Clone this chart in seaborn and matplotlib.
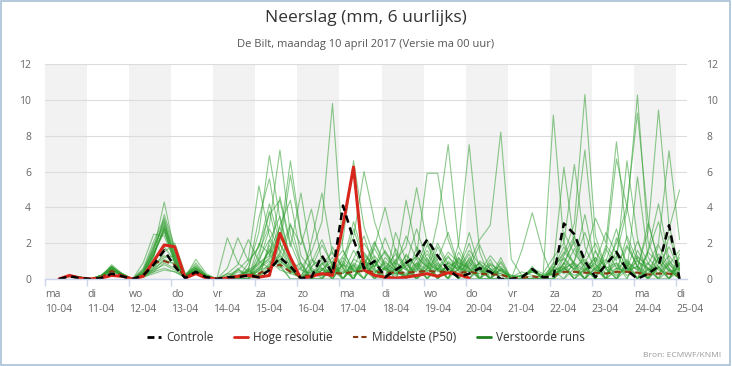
import pandas as pd
import seaborn as sns
import matplotlib.pyplot as plt
from matplotlib.lines import Line2D
from matplotlib.patches import Rectangle

# dagen op de x-as
dagen = ['ma', 'di', 'wo', 'do', 'vr', 'za', 'zo', 'ma', 'di', 'wo', 'do', 'vr', 'za', 'zo', 'ma', 'di']
datums = ['10-04', '11-04', '12-04', '13-04', '14-04', '15-04', '16-04', '17-04',
          '18-04', '19-04', '20-04', '21-04', '22-04', '23-04', '24-04', '25-04']

# 6-uurlijkse tijdstappen (lokale tijd, uren na 10-04 00:00)
uren = list(range(8, 8 + 6 * 60, 6))

controle = [0, 0.15, 0.05, 0, 0.05, 0.3, 0.15, 0, 0.2, 0.8,
            1.6, 0.7, 0.05, 0.4, 0.1, 0, 0.1, 0.1, 0.2, 0.1,
            0.5, 1.2, 0.7, 0.05, 0.1, 1.3, 0.3, 4.1, 2.2, 0.6,
            1.0, 0.1, 0.5, 0.9, 1.3, 2.2, 1.3, 0.5, 0.1, 0.3,
            0.6, 0.4, 0.0, 0.0, 0.1, 0.55, 0.1, 0.1, 3.1, 2.5,
            1.0, 0.1, 0.8, 1.5, 0.5, 0.0, 0.3, 0.7, 3.0, 0.0]

hoge_resolutie = [0, 0.2, 0.05, 0, 0.05, 0.2, 0.15, 0, 0.15, 1.0,
                  1.9, 1.8, 0.05, 0.3, 0.05, 0, 0.05, 0.15, 0.2, 0.1,
                  0.2, 2.55, 1.2, 0.0, 0.15, 0.3, 0.2, 3.0, 6.25, 0.5,
                  0.2, 0.1, 0.05, 0.1, 0.2, 0.3, 0.15, 0.35, 0.25, 0.05]

middelste = [0, 0.15, 0.05, 0, 0.1, 0.45, 0.2, 0, 0.2, 0.9,
             1.0, 0.8, 0.1, 0.4, 0.1, 0, 0.1, 0.15, 0.2, 0.3,
             0.6, 0.8, 0.4, 0.15, 0.2, 0.3, 0.35, 0.3, 0.4, 0.45,
             0.4, 0.35, 0.35, 0.35, 0.4, 0.45, 0.4, 0.4, 0.35, 0.4,
             0.3, 0.25, 0.25, 0.05, 0.05, 0.15, 0.05, 0.2, 0.4, 0.4,
             0.35, 0.35, 0.3, 0.4, 0.4, 0.35, 0.25, 0.3, 0.3, 0.2]

verstoorde_runs = [
    [0, 0.2, 0.1, 0, 0.1, 0.6, 0.2, 0, 0.4, 1.6, 4.3, 1.5, 0.1, 0.5, 0.1, 0, 0, 0, 0, 0,
     2.1, 3.5, 1.2, 0, 0, 0.8, 1.5, 0.6, 2.8, 1.0, 0, 1.2, 0.6, 0, 1.8, 0.9, 0, 0.5, 1.2, 0,
     0, 0.8, 0, 0, 0, 0, 0, 0.6, 1.8, 0.7, 0, 1.1, 0, 2.3, 0.9, 0, 0.5, 1.4, 0.6, 0],
    [0, 0.2, 0.05, 0, 0.2, 0.7, 0.3, 0, 0.9, 2.5, 2.4, 1.0, 0.1, 0.8, 0.2, 0, 0, 0, 0, 1.2,
     3.8, 1.4, 0.5, 0, 0, 0, 0.9, 1.6, 0.5, 0, 1.1, 0, 2.6, 1.0, 0, 0.6, 3.2, 7.5, 1.8, 0.6,
     0, 0, 0.5, 0, 0, 0, 0, 0, 0.9, 2.1, 0.8, 0, 0, 0.6, 1.9, 0.7, 0, 0, 0.9, 0],
    [0, 0.2, 0.1, 0, 0.1, 0.5, 0.2, 0, 0.2, 1.2, 3.6, 1.8, 0.2, 0.4, 0.1, 0, 0, 0, 0, 0.6,
     1.2, 4.6, 2.0, 0.6, 0, 0, 0.7, 0, 1.1, 2.4, 0.6, 0, 0.5, 1.3, 0.7, 2.2, 1.0, 0, 2.0, 7.5,
     1.5, 0, 0, 0, 0, 0, 0, 0, 0.5, 1.0, 2.6, 0.9, 0, 0, 0, 1.6, 0.5, 0, 0, 1.2],
    [0, 0.15, 0.05, 0, 0.1, 0.6, 0.2, 0, 0.5, 1.9, 3.2, 1.1, 0.1, 0.6, 0.1, 0, 0.1, 0.4, 0.3, 0.2,
     0.9, 1.8, 5.8, 2.4, 0.4, 0.2, 0.5, 1.0, 0.4, 0.8, 2.1, 0.8, 0.3, 0.2, 0.6, 1.4, 0.5, 1.3, 0.4, 0.9,
     2.2, 3.0, 8.2, 1.1, 0.2, 0.1, 0, 0.3, 0.6, 0.2, 0.5, 1.2, 0.3, 0.8, 0.2, 0.4, 1.5, 3.2, 0.8, 0.3],
    [0, 0.2, 0.1, 0, 0.1, 0.8, 0.3, 0, 0.3, 1.4, 2.8, 0.9, 0.1, 0.3, 0.1, 0, 0, 0, 0, 0.5,
     1.6, 0.7, 0, 0, 0.6, 1.9, 0.8, 0, 0, 1.4, 0.7, 1.6, 0.5, 0, 0.9, 0, 1.8, 0.6, 0, 1.2,
     0.5, 0, 1.2, 0, 1.6, 3.7, 1.5, 0, 0, 0.6, 0, 0, 1.0, 2.8, 0.6, 0, 0.9, 0, 0, 0.5],
    [0, 0.2, 0.05, 0, 0.2, 0.5, 0.2, 0, 0.1, 0.6, 1.5, 2.0, 0.3, 0.7, 0.2, 0, 0, 0, 0, 0.9,
     1.3, 2.6, 0.8, 0, 1.1, 0.6, 0, 0.9, 3.2, 1.2, 0, 0.6, 1.4, 0.5, 0, 0.8, 0, 1.0, 0.6, 2.0,
     0, 0, 0.6, 0, 0, 0, 0, 9.15, 2.0, 0.8, 0, 0.6, 0, 1.3, 0.5, 0.7, 0, 1.9, 0.6, 0],
    [0, 0.2, 0.1, 0, 0.1, 0.4, 0.2, 0, 0.2, 0.5, 0.8, 0.5, 0.1, 1.1, 0.3, 0, 0, 0, 0.5, 0,
     0.8, 1.4, 3.1, 0.9, 0, 0.5, 1.2, 0, 0.6, 2.0, 1.0, 0, 0.7, 2.4, 1.1, 0, 0.6, 0, 1.5, 0.5,
     0.9, 0, 0, 0, 0, 0.5, 0, 0.8, 6.25, 1.9, 0.6, 0, 0, 0.5, 1.1, 0, 0.6, 0, 2.4, 0.7],
    [0, 0.2, 0.1, 0, 0.2, 0.7, 0.2, 0, 0.3, 1.3, 2.9, 1.2, 0.2, 0.5, 0.1, 0, 2.3, 0.9, 0.4, 0.2,
     0.5, 1.1, 0.4, 0.2, 0.9, 2.2, 0.7, 0.3, 0.8, 0.4, 1.7, 0.6, 0.3, 0.9, 2.8, 1.0, 0.4, 0.7, 0.3, 1.1,
     0.4, 1.3, 0.6, 0.2, 0.1, 0.6, 0.3, 1.2, 2.0, 6.4, 1.8, 0.5, 0.3, 0.9, 0.4, 1.3, 0.6, 0.3, 0.8, 1.6],
    [0, 0.15, 0.05, 0, 0.1, 0.5, 0.2, 0, 0.2, 0.4, 0.6, 0.4, 0.1, 0.4, 0.1, 0, 0.6, 2.3, 1.0, 1.8,
     4.2, 2.0, 0.6, 0, 0, 0, 1.8, 0.6, 0, 0.9, 0, 0, 0.9, 0.5, 1.3, 0.6, 2.0, 0.8, 0, 0,
     0.7, 0, 1.0, 0, 0, 0, 0, 0.6, 1.4, 3.1, 10.3, 2.4, 0.6, 0, 0.9, 0.5, 0, 0.7, 0, 0.9],
    [0, 0.2, 0.1, 0, 0.1, 0.6, 0.3, 0, 0.1, 0.4, 0.9, 0.6, 0.1, 0.5, 0.2, 0, 0.3, 0.8, 2.2, 1.0,
     0.6, 3.0, 4.4, 1.3, 0.5, 0.2, 0.6, 0.3, 1.6, 0.7, 0.3, 1.0, 0.4, 0.2, 0.7, 1.6, 0.5, 0.3, 0.9, 0.6,
     1.9, 0.5, 0.3, 0.1, 0.4, 0.2, 0.1, 0.4, 0.8, 2.3, 7.2, 1.5, 0.5, 0.2, 0.6, 2.1, 0.9, 0.3, 1.0, 0.4],
    [0, 0.2, 0.05, 0, 0.2, 0.6, 0.2, 0, 0.4, 1.8, 3.0, 1.4, 0.2, 0.6, 0.1, 0, 0, 0.5, 1.1, 5.2,
     2.4, 1.2, 0.5, 0, 0, 0.9, 0, 1.2, 0.5, 0, 0.9, 0, 1.7, 0.6, 0, 0.5, 1.1, 2.6, 0.7, 0,
     0, 0.6, 0, 0, 0, 0.7, 0, 0.9, 1.1, 0.5, 1.3, 3.4, 2.0, 7.66, 2.2, 0.6, 0, 1.2, 0.5, 0],
    [0, 0.2, 0.1, 0, 0.1, 0.5, 0.2, 0, 0.2, 0.9, 1.8, 1.0, 0.1, 0.4, 0.1, 0, 0, 0, 0.6, 2.6,
     6.9, 3.4, 1.0, 0, 0, 0.6, 0, 0, 0.9, 0.5, 0, 0.7, 0, 1.4, 0.6, 0, 0.8, 0, 1.2, 0.6,
     0, 0, 0.9, 0, 0, 0, 0, 0.5, 2.6, 1.4, 0.7, 0, 1.5, 6.7, 4.0, 1.1, 0, 0.6, 1.3, 0.5],
    [0, 0.2, 0.1, 0, 0.1, 0.7, 0.2, 0, 0.6, 2.1, 3.4, 1.6, 0.2, 0.9, 0.2, 0, 0, 0, 0, 1.5,
     3.0, 7.2, 2.5, 0.8, 0, 0.5, 0, 0.9, 0, 1.1, 0.5, 0, 0.6, 0, 1.2, 0.7, 0, 0.9, 0.5, 2.6,
     0.6, 0, 0, 0, 0, 0, 0, 0, 0.7, 0, 0.5, 0.9, 2.6, 1.4, 3.8, 10.27, 2.1, 0.6, 0, 0.8],
    [0, 0.2, 0.05, 0, 0.1, 0.6, 0.2, 0, 0.3, 1.4, 2.7, 0.9, 0.1, 0.3, 0.1, 0, 0.1, 0.2, 0.4, 3.4,
     5.6, 2.2, 6.6, 2.5, 0.6, 0.3, 0.7, 0.4, 0.2, 0.6, 1.3, 0.5, 0.2, 0.8, 0.4, 1.9, 0.6, 0.3, 0.7, 0.4,
     0.3, 0.9, 0.4, 0.2, 0.1, 0.4, 0.2, 0.3, 0.5, 1.7, 0.4, 0.2, 0.8, 2.0, 4.1, 9.26, 3.3, 0.9, 0.5, 0.2],
    [0, 0.2, 0.1, 0, 0.2, 0.5, 0.3, 0, 0.2, 0.7, 1.2, 1.3, 0.2, 0.6, 0.2, 0, 0, 0, 0.9, 1.8,
     3.6, 4.4, 1.8, 4.8, 1.2, 0, 0, 0.8, 0, 1.5, 0.6, 2.3, 0.8, 0, 0.5, 1.2, 0, 0.6, 0, 0.9,
     0.5, 0, 0, 0, 0, 0.6, 0, 0, 1.2, 0.5, 0, 0.6, 1.1, 0, 1.8, 0.7, 2.6, 9.43, 3.0, 0.6],
    [0, 0.2, 0.1, 0, 0.1, 0.6, 0.2, 0, 0.1, 0.5, 1.1, 0.8, 0.1, 0.5, 0.1, 0, 0, 0.6, 0, 2.0,
     1.4, 0.6, 3.0, 1.9, 3.9, 1.0, 0.5, 0, 0.8, 0, 2.0, 0.7, 0, 1.1, 0, 0.6, 1.3, 0.5, 0, 0.8,
     0, 1.1, 0, 0, 0, 0.5, 0, 0.6, 1.5, 0.9, 0, 1.6, 0.6, 0.9, 0, 1.2, 0.8, 2.0, 7.16, 2.2],
    [0, 0.2, 0.05, 0, 0.1, 0.6, 0.2, 0, 0.5, 1.7, 3.1, 1.3, 0.2, 0.7, 0.1, 0, 0, 0, 0.5, 0.9,
     2.8, 1.6, 0.7, 0, 2.1, 4.8, 1.4, 0.6, 0, 1.0, 0.5, 0, 1.1, 0, 0.8, 0, 0.6, 1.5, 0.9, 0,
     0.6, 0, 0, 0, 0, 0, 0, 0, 0.9, 0.6, 1.1, 0.5, 0, 1.6, 0.7, 0, 1.5, 0.9, 2.8, 4.97],
    [0, 0.2, 0.1, 0, 0.2, 0.5, 0.2, 0, 0.1, 0.3, 0.5, 0.4, 0.1, 0.4, 0.2, 0, 0.1, 0.2, 0.2, 0.6,
     1.0, 0.5, 0.3, 0.6, 1.5, 3.2, 9.8, 1.6, 0.4, 0.7, 0.3, 0.9, 0.5, 0.2, 0.6, 0.4, 0.9, 0.3, 0.5, 1.6,
     0.8, 0.4, 0.3, 0.1, 0.2, 0.4, 0.1, 0.3, 1.3, 2.4, 0.9, 0.4, 1.7, 0.6, 0.4, 5.7, 1.2, 0.5, 0.3, 0.6],
    [0, 0.2, 0.1, 0, 0.1, 0.7, 0.2, 0, 0.3, 1.5, 2.6, 1.1, 0.1, 0.5, 0.1, 0, 0, 0, 0.6, 0,
     1.9, 0.8, 0, 0, 0.7, 1.2, 0.5, 2.2, 6.6, 2.9, 1.2, 0, 0.6, 0.9, 0, 1.1, 0.5, 0, 0.6, 1.0,
     0, 0.5, 0.7, 0, 0, 0, 0, 0.5, 0, 1.0, 3.6, 0.8, 0, 0, 1.0, 0.5, 3.1, 1.1, 0, 0.9],
    [0, 0.2, 0.05, 0, 0.1, 0.5, 0.2, 0, 0.2, 0.8, 1.3, 1.0, 0.2, 0.6, 0.1, 0, 0.3, 0.2, 0.4, 0.8,
     1.5, 2.9, 1.1, 0.5, 0.3, 0.9, 0.4, 1.3, 2.3, 6.0, 3.2, 1.4, 0.6, 0.3, 0.9, 0.5, 0.2, 0.7, 1.0, 0.4,
     0.7, 0.3, 0.2, 0, 0.2, 0.4, 0.2, 0.7, 0.3, 0.8, 0.4, 1.2, 0.7, 0.3, 2.4, 1.0, 0.5, 0.8, 1.8, 0.5],
    [0, 0.2, 0.1, 0, 0.1, 0.6, 0.3, 0, 0.3, 1.3, 2.9, 1.2, 0.1, 0.4, 0.2, 0, 0, 0, 0, 1.1,
     2.2, 1.0, 0.5, 0.9, 0, 0, 0.6, 0, 1.1, 0.8, 1.8, 4.0, 1.5, 0.6, 0, 0.9, 0.5, 1.2, 0.7, 0,
     1.0, 0.6, 0, 0, 0, 0.6, 0, 0, 0.9, 0, 0.6, 0, 1.9, 1.0, 6.6, 2.3, 0, 0.7, 0, 1.4],
    [0, 0.2, 0.1, 0, 0.2, 0.7, 0.2, 0, 0.4, 1.6, 3.3, 1.4, 0.2, 0.5, 0.1, 0, 0, 0, 0, 0.7,
     1.1, 2.0, 0.9, 0, 0.5, 0, 0.8, 0.5, 0, 1.3, 0.7, 1.5, 0.8, 4.4, 1.6, 0.7, 0, 0.9, 0.5, 1.4,
     0, 0, 0.6, 0, 0, 0, 0, 0, 0.6, 0, 0.9, 2.0, 0.6, 0, 0.8, 0, 1.6, 4.2, 1.1, 0],
    [0, 0.15, 0.05, 0, 0.1, 0.6, 0.2, 0, 0.2, 0.6, 1.0, 0.9, 0.1, 0.3, 0.1, 0, 0, 0, 0, 0.5,
     0.7, 1.3, 0.6, 0, 0, 0.5, 1.0, 0, 0.7, 0, 0.9, 0.5, 1.0, 1.8, 5.1, 2.0, 0.8, 0, 1.1, 0.5,
     0, 0.8, 0.5, 0, 0, 0, 0, 0.5, 0.7, 0, 0, 0.7, 0, 0, 0.5, 1.0, 0.6, 0, 0.5, 0],
    [0, 0.2, 0.1, 0, 0.1, 0.5, 0.2, 0, 0.3, 1.4, 2.8, 1.1, 0.2, 0.6, 0.2, 0, 0.2, 0.5, 0.3, 0.4,
     1.7, 0.9, 0.3, 0.1, 0.4, 0.6, 0.3, 0.8, 0.5, 0.9, 0.4, 0.6, 0.3, 0.7, 1.3, 5.9, 5.9, 2.2, 0.6, 0.4,
     0.9, 0.3, 0.5, 0.1, 0.2, 0.5, 0.2, 0.3, 0.6, 0.9, 0.5, 0.8, 0.3, 0.6, 0.4, 0.7, 0.3, 1.2, 0.4, 0.6],
]

groen = '#2f9e2f'
rood = '#d9261c'
bruin = '#8a3a12'

tijd = [u / 24 for u in uren]
runs_df = pd.DataFrame(
    [(i, tijd[k], v) for i, run in enumerate(verstoorde_runs) for k, v in enumerate(run)],
    columns=['run', 'tijd', 'mm'])
controle_df = pd.DataFrame({'tijd': tijd, 'mm': controle})
middelste_df = pd.DataFrame({'tijd': tijd, 'mm': middelste})
hres_df = pd.DataFrame({'tijd': tijd[:len(hoge_resolutie)], 'mm': hoge_resolutie})

sns.set_theme(style='white')
plt.rcParams['font.family'] = ['Open Sans', 'DejaVu Sans']

fig, ax = plt.subplots(figsize=(7.32, 3.66), dpi=100)
fig.subplots_adjust(left=0.0615, right=0.9385, bottom=0.2377, top=0.825)

# grijze banden voor even dagen
for d in range(0, 16, 2):
    ax.axvspan(d, d + 1, color='#f2f2f2', lw=0, zorder=0.8)

sns.lineplot(data=runs_df, x='tijd', y='mm', units='run', estimator=None,
             color=groen, lw=0.8, alpha=0.55, ax=ax, legend=False)
sns.lineplot(data=middelste_df, x='tijd', y='mm', color=bruin, lw=1.5,
             ls=(0, (3, 2)), ax=ax, legend=False)
sns.lineplot(data=hres_df, x='tijd', y='mm', color=rood, lw=2.2, ax=ax, legend=False)
sns.lineplot(data=controle_df, x='tijd', y='mm', color='black', lw=1.8,
             ls=(0, (3, 2)), ax=ax, legend=False)

ax.set_xlim(0, 15.26)
ax.set_ylim(0, 12)
ax.set_yticks(range(0, 13, 2))
ax.set_xticks(range(16))
ax.set_xticklabels([f'{d}\n{dt}' for d, dt in zip(dagen, datums)], ha='left', linespacing=1.5)
ax.set_xlabel('')
ax.set_ylabel('')
ax.set_axisbelow('line')
ax.yaxis.grid(True, color='#dcdcdc', lw=0.8)
ax.xaxis.grid(False)
for s in ['top', 'left', 'right']:
    ax.spines[s].set_visible(False)
ax.spines['bottom'].set_color('#ccd6eb')
ax.spines['bottom'].set_linewidth(1)
ax.tick_params(axis='x', direction='out', length=5, color='#ccd6eb', width=1,
               labelcolor='#666666', labelsize=7.5, pad=2, bottom=True)
ax.tick_params(axis='y', length=0, labelcolor='#666666', labelsize=7.5, pad=10)

ax2 = ax.twinx()
ax2.set_ylim(0, 12)
ax2.set_yticks(range(0, 13, 2))
for s in ax2.spines.values():
    s.set_visible(False)
ax2.tick_params(axis='y', length=0, labelcolor='#666666', labelsize=7.5, pad=14)
ax2.grid(False)

fig.text(0.5, 0.952, 'Neerslag (mm, 6 uurlijks)', ha='center', va='center',
         fontsize=12.5, color='#333333')
fig.text(0.5, 0.879, 'De Bilt, maandag 10 april 2017 (Versie ma 00 uur)', ha='center',
         va='center', fontsize=8, color='#555555')

handles = [
    Line2D([0], [0], color='black', lw=2, ls=(0, (2.5, 1.5))),
    Line2D([0], [0], color=rood, lw=2),
    Line2D([0], [0], color=bruin, lw=1.5, ls=(0, (2.5, 1.5))),
    Line2D([0], [0], color='#1f7f1f', lw=2),
]
fig.legend(handles, ['Controle', 'Hoge resolutie', 'Middelste (P50)', 'Verstoorde runs'],
           loc='center', bbox_to_anchor=(0.5, 0.077), ncol=4, frameon=False,
           fontsize=8.5, handlelength=1.2, columnspacing=1.7, handletextpad=0.45,
           labelcolor='#333333')

fig.text(0.985, 0.03, 'Bron: ECMWF/KNMI', ha='right', va='center', fontsize=6, color='#999999')
fig.add_artist(Rectangle((0.002, 0.003), 0.995, 0.994, transform=fig.transFigure,
                         fill=False, ec='#a9c0d6', lw=1.2))

fig.savefig('out.png', dpi=100)
